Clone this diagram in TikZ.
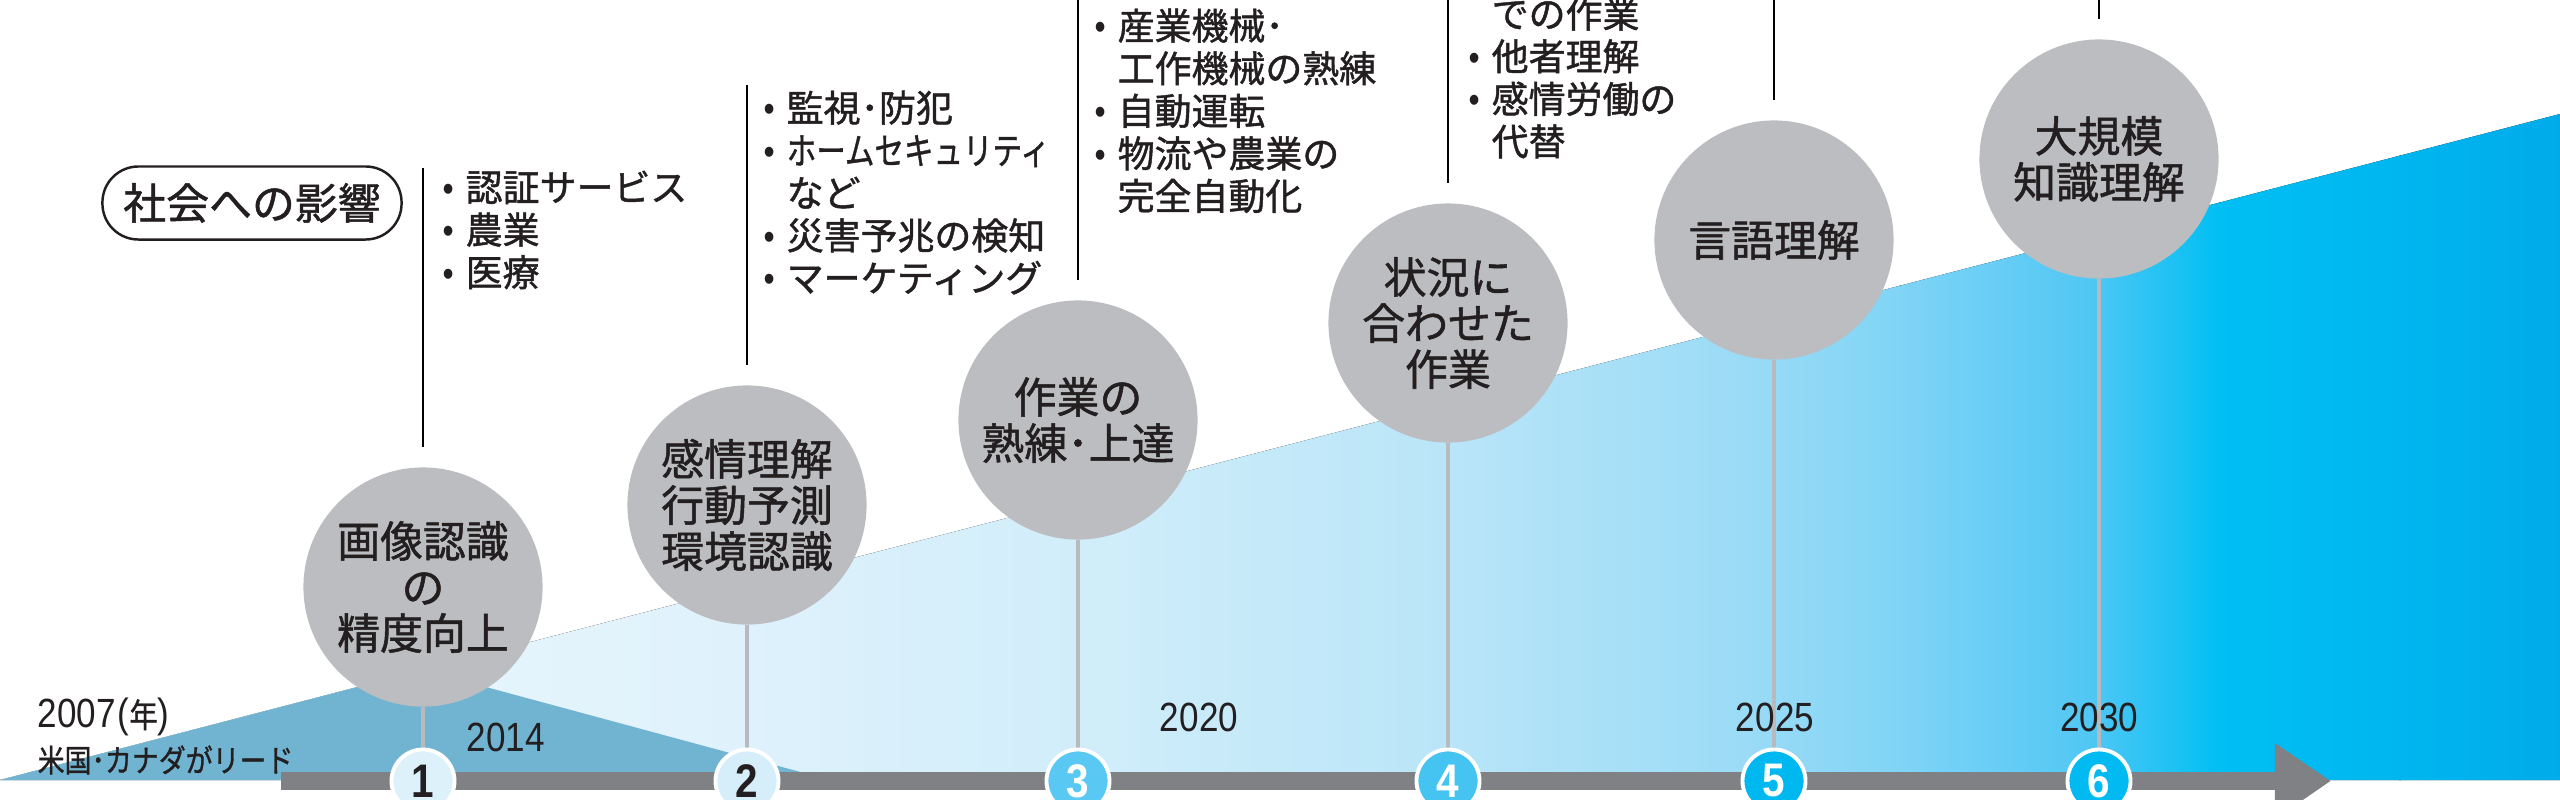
\documentclass[tikz,border=0pt]{standalone}
\usepackage{fontspec}
\usepackage{graphicx}
\usetikzlibrary{arrows.meta}
\newfontfamily\jp[FakeBold=1.2]{Noto Sans CJK JP}
\newfontfamily\numf[FakeStretch=0.86]{Liberation Sans}
\definecolor{ink}{HTML}{231F20}
\definecolor{cgray}{HTML}{BCBDC0}
\definecolor{lgray}{HTML}{B9BABD}
\definecolor{agray}{HTML}{808184}
\definecolor{dkblue}{HTML}{71B4D2}
\definecolor{g0}{HTML}{F0F9FE}
\definecolor{g1}{HTML}{E0F2FC}
\definecolor{g2}{HTML}{D0EDFA}
\definecolor{g3}{HTML}{B9E5F8}
\definecolor{g4}{HTML}{9ADBF6}
\definecolor{g5}{HTML}{80D4F6}
\definecolor{g6}{HTML}{50C7F4}
\definecolor{g7}{HTML}{00BFF3}
\definecolor{g8}{HTML}{00B6EF}
\definecolor{g9}{HTML}{00ABEA}
\definecolor{nc1}{HTML}{DDF1FB}
\definecolor{nc2}{HTML}{D6EEFA}
\definecolor{nc3}{HTML}{59C8F2}
\definecolor{nc4}{HTML}{45C4F2}
\definecolor{nc5}{HTML}{00B8F0}
\definecolor{nc6}{HTML}{00BAF1}
\pgfdeclarelayer{bg}
\pgfsetlayers{bg,main}
\newcommand\bul{\makebox[0.23cm][l]{\numf •}}
\newcommand\cont{\hspace*{0.23cm}}
\begin{document}
\begin{tikzpicture}[x=0.01cm,y=-0.01cm,
  bigc/.style={circle, fill=cgray, minimum size=2.39cm, inner sep=0pt, align=center, text=ink,
    font=\jp\fontsize{12.2}{13.1}\selectfont},
  numc/.style={circle, draw=white, line width=1.1pt, minimum size=0.63cm, inner sep=0pt,
    font=\numf\bfseries\fontsize{13.4}{13.4}\selectfont},
  blk/.style={anchor=north west, inner sep=0pt, align=left, text=ink,
    font=\jp\fontsize{10.5}{12.1}\selectfont},
  lab/.style={draw=ink, line width=0.7pt, rounded corners=0.36cm, minimum width=2.99cm,
    minimum height=0.73cm, inner sep=0pt, text=ink, font=\jp\fontsize{12.2}{12.2}\selectfont},
  yr/.style={inner sep=0pt, text=ink, font=\numf\fontsize{11.6}{11.6}\selectfont},
  vline/.style={draw=lgray, line width=1.4pt},
  bline/.style={draw=black, line width=0.8pt, shorten >=0.2cm}]
\useasboundingbox (0,0) rectangle (2560,800);

% big circles
\node[bigc] (c1) at (423,587) {画像認識\\の\\精度向上};
\node[bigc] (c2) at (747,505) {感情理解\\行動予測\\環境認識};
\node[bigc] (c3) at (1078,420) {作業の\\熟練･上達};
\node[bigc] (c4) at (1448,323) {状況に\\合わせた\\作業};
\node[bigc] (c5) at (1774,240) {言語理解};
\node[bigc] (c6) at (2099,159) {大規模\\知識理解};

% number circles
\node[numc, fill=nc1, text=ink] (n1) at (423,781) {1};
\node[numc, fill=nc2, text=ink] (n2) at (747,781) {2};
\node[numc, fill=nc3, text=white] (n3) at (1078,781) {3};
\node[numc, fill=nc4, text=white] (n4) at (1448,781) {4};
\node[numc, fill=nc5, text=white] (n5) at (1774,781) {5};
\node[numc, fill=nc6, text=white] (n6) at (2099,781) {6};

% timeline ends and line tops
\coordinate (tstart) at (281,781);
\coordinate (tend) at (2331,781);
\coordinate (t1) at (423,168);
\coordinate (t2) at (747,85);
\coordinate (t3) at (1078,-5);
\coordinate (t4) at (1448,-5);
\coordinate (t5) at (1774,-5);
\coordinate (t6) at (2099,-5);

% label
\node[lab] (imp) at (252,203) {社会への影響};

% text blocks
\node[blk] (b1) at (442,170) {\bul 認証サービス\\\bul 農業\\\bul 医療};
\node[blk] (b2) at (763,90) {\bul 監視･防犯\\\bul \scalebox{0.8}[1]{ホームセキュリティ}\\\cont など\\\bul 災害予兆の検知\\\bul マーケティング};
\node[blk] (b3) at (1094,8) {\bul 産業機械･\\\cont 工作機械の熟練\\\bul 自動運転\\\bul 物流や農業の\\\cont 完全自動化};
\node[blk] (b4) at (1468,-4) {\cont での作業\\\bul 他者理解\\\bul 感情労働の\\\cont 代替};

% years
\node[yr, anchor=west] (y2007) at (37,717) {2007\kern0.02cm(\scalebox{0.85}[1]{\jp\fontsize{9.5}{9.5}\selectfont 年})};
\node[inner sep=0pt, anchor=west, text=ink] (lead) at (37,760) {\scalebox{0.86}[1]{\jp\fontsize{8.9}{8.9}\selectfont 米国･カナダがリード}};
\node[yr] (y2014) at (506,737) {2014};
\node[yr] (y2020) at (1199,717) {2020};
\node[yr] (y2025) at (1775,717) {2025};
\node[yr] (y2030) at (2099,717) {2030};

\begin{pgfonlayer}{bg}
  \begin{scope}
    \clip (0,780) -- (2560,114) -- (2560,780) -- cycle;
    \foreach \xa/\xb/\ca/\cb in {0/700/g0/g1,700/1100/g1/g2,1100/1450/g2/g3,1450/1750/g3/g4,1750/1900/g4/g5,1900/2090/g5/g6,2090/2220/g6/g7,2220/2400/g7/g8,2400/2560/g8/g9}
      \fill[left color=\ca, right color=\cb] (\xa-1,100) rectangle (\xb+1,790);
  \end{scope}
  \fill[dkblue] (0,780) -- (423,670) -- (830,780) -- cycle;
  \draw[agray, line width=0.18cm, -{Triangle[length=0.56cm,width=0.72cm]}] (tstart) -- (tend);
  \foreach \i in {1,...,6} \draw[vline] (c\i.south) -- (n\i.center);
  \foreach \i in {1,...,6} \draw[bline] (t\i) -- (c\i.north);
\end{pgfonlayer}
\end{tikzpicture}
\end{document}
